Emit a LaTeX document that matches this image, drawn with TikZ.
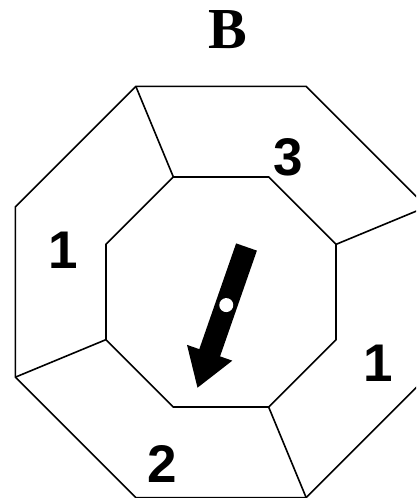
\documentclass[tikz,border=0pt]{standalone}
\usepackage{fontspec}
\setmainfont{Liberation Serif}
\newfontfamily\digitfont{Liberation Sans}
\usetikzlibrary{calc}

\tikzset{
  wall/.style={line width=1.6pt, line join=miter},
  facelabel/.style={font=\digitfont\bfseries\fontsize{53}{53}\selectfont},
}

\begin{document}
\begin{tikzpicture}[x=1pt,y=1pt]
    \useasboundingbox (0,0) rectangle (416,498);
    \clip (0,0) rectangle (416,498);
    \coordinate (c) at (221,206);
    \foreach \k in {0,...,7} {
      \coordinate (o\k) at ($(c)+(22.5+45*\k:222.5pt)$);
      \coordinate (i\k) at ($(c)+(22.5+45*\k:124.5pt)$);
    }
    % outer and inner octagon
    \draw[wall] (o0) \foreach \k in {1,...,7} {-- (o\k)} -- cycle;
    \draw[wall] (i0) \foreach \k in {1,...,7} {-- (i\k)} -- cycle;
    \foreach \k in {0,2,4,6} \draw[wall] (o\k) -- (i\k);
    % labels
    \node[font=\bfseries\fontsize{58}{58}\selectfont] (title) at (228,468) {B};
    \node[facelabel] (top) at (288,341) {3};
    \node[facelabel] (left) at (63,248) {1};
    \node[facelabel] (right) at (378,135) {1};
    \node[facelabel] (bottom) at (162,34) {2};
    % pointer
    \begin{scope}[shift={(246.5,251)},rotate=250.8]
      \fill (0,11) -- (112,11) -- (112,24) -- (149,0) -- (112,-24) -- (112,-11) -- (0,-11) -- cycle;
      \fill[white] (61.5,0) circle (7pt);
    \end{scope}
\end{tikzpicture}
\end{document}
